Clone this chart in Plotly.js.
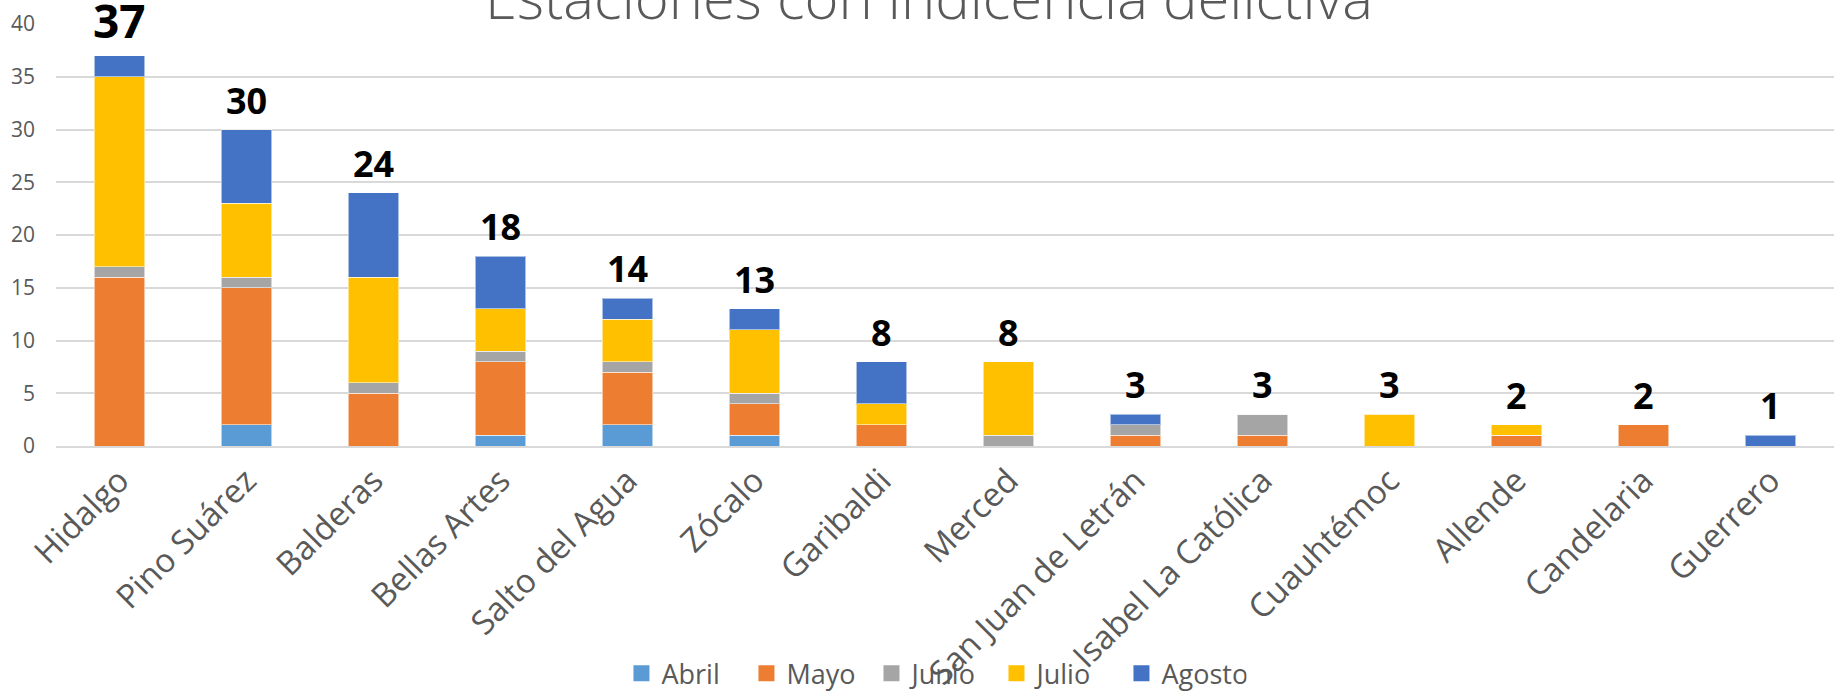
<!DOCTYPE html>
<html>
<head>
<meta charset="utf-8">
<script src="https://cdn.plot.ly/plotly-3.0.1.min.js"></script>
<style>
html,body{margin:0;padding:0;background:#fff;}
#chart{width:1845px;height:697px;}
</style>
</head>
<body>
<div id="chart"></div>
<script>
const estaciones = ["Hidalgo","Pino Suárez","Balderas","Bellas Artes","Salto del Agua","Zócalo","Garibaldi","Merced","San Juan de Letrán","Isabel La Católica","Cuauhtémoc","Allende","Candelaria","Guerrero"];
const abril  = [0, 2, 0, 1, 2, 1, 0, 0, 0, 0, 0, 0, 0, 0];
const mayo   = [16,13, 5, 7, 5, 3, 2, 0, 1, 1, 0, 1, 2, 0];
const junio  = [1, 1, 1, 1, 1, 1, 0, 1, 1, 2, 0, 0, 0, 0];
const julio  = [18, 7,10, 4, 4, 6, 2, 7, 0, 0, 3, 1, 0, 0];
const agosto = [2, 7, 8, 5, 2, 2, 4, 0, 1, 0, 0, 0, 0, 1];
const meses = ["Abril","Mayo","Junio","Julio","Agosto"];
const colores = ["#5B9BD5","#ED7D31","#A5A5A5","#FFC000","#4472C4"];
const series = [abril, mayo, junio, julio, agosto];
const totales = estaciones.map((_, i) => series.reduce((s, arr) => s + arr[i], 0));

const FONT = "'Open Sans', 'Noto Sans', sans-serif";
const GRAY = "#595959";

const barTraces = series.map((vals, k) => ({
  type: "bar",
  name: meses[k],
  legendgroup: meses[k],
  showlegend: false,
  x: estaciones,
  y: vals,
  marker: {color: colores[k], line: {color: "rgba(255,255,255,0.55)", width: 1}},
  hoverinfo: "x+y+name"
}));

// legend-only entries with larger square swatches
const legendTraces = meses.map((m, k) => ({
  type: "scatter",
  mode: "markers",
  name: m,
  legendgroup: m,
  showlegend: true,
  x: [null], y: [null],
  marker: {symbol: "square", size: 16, color: colores[k], line: {width: 0}},
  hoverinfo: "skip"
}));

const annotations = estaciones.map((e, i) => ({
  x: e, y: totales[i], xref: "x", yref: "y",
  text: String(totales[i]),
  showarrow: false, yanchor: "bottom", yshift: 3,
  font: {family: FONT, size: i === 0 ? 46 : 36, color: "#000000", weight: 700}
}));

const layout = {
  width: 1845, height: 697,
  paper_bgcolor: "#ffffff", plot_bgcolor: "#ffffff",
  margin: {l: 56, r: 11, t: 23.5, b: 251, pad: 0, autoexpand: false},
  barmode: "stack",
  bargap: 0.6,
  font: {family: FONT, color: GRAY},
  title: {
    text: "Estaciones con indicencia delictiva",
    xref: "container", x: 0.5035, xanchor: "center",
    yref: "container", y: 1 - 19/697, yanchor: "bottom",
    font: {family: FONT, size: 58, color: GRAY, weight: 300}
  },
  xaxis: {
    type: "category",
    tickangle: -45,
    tickfont: {family: FONT, size: 33, color: GRAY},
    showline: true, linecolor: "#d9d9d9", linewidth: 2,
    showgrid: false, ticks: "", automargin: false
  },
  yaxis: {
    range: [0, 40], dtick: 5, tick0: 0,
    tickfont: {family: FONT, size: 21, color: GRAY},
    showgrid: true, gridcolor: "#d9d9d9", gridwidth: 2,
    zeroline: false, showline: false, ticks: "",
    ticklabelstandoff: 20, automargin: false
  },
  showlegend: true,
  legend: {
    orientation: "h",
    traceorder: "normal",
    entrywidth: 80, entrywidthmode: "pixels",
    x: 0.4938, xanchor: "center",
    y: -0.5396, yanchor: "middle",
    font: {family: FONT, size: 27, color: GRAY},
    bgcolor: "rgba(0,0,0,0)"
  },
  annotations: annotations
};

Plotly.newPlot("chart", barTraces.concat(legendTraces), layout, {displayModeBar: false, staticPlot: true});
</script>
</body>
</html>
